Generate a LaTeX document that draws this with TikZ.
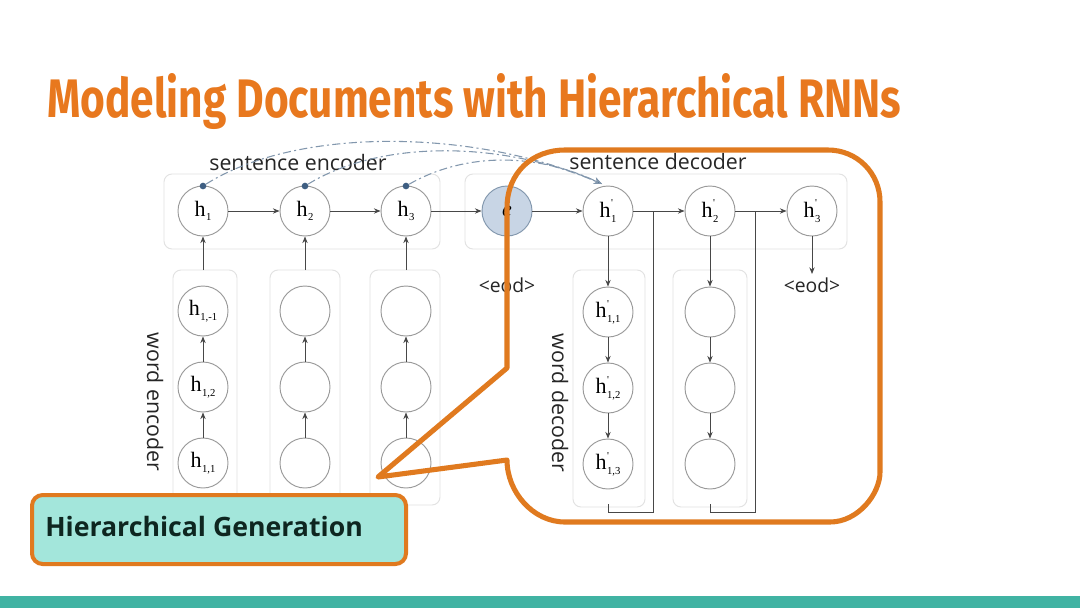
\documentclass[tikz,border=0pt]{standalone}
\usepackage{fontspec}
\usepackage{graphicx}
\setmainfont{Open Sans}
\newfontfamily\titlefont{Fira Sans}
\newfontfamily\serifnode{Liberation Serif}
\usetikzlibrary{arrows.meta}
\definecolor{titleO}{HTML}{E8781E}
\definecolor{calloutO}{HTML}{E07A1F}
\definecolor{tealbar}{HTML}{41B3A3}
\definecolor{tealfill}{HTML}{A3E6DB}
\definecolor{boxgrey}{HTML}{E2E2E2}
\definecolor{circgrey}{HTML}{9A9A9A}
\definecolor{arrowgrey}{HTML}{474747}
\definecolor{dashblue}{HTML}{8297AD}
\definecolor{dotblue}{HTML}{3E5E82}
\definecolor{efill}{HTML}{C8D5E5}
\definecolor{hgtext}{HTML}{0E2620}
\newcommand{\hsub}[1]{h\kern0.4pt\raisebox{-0.45ex}{\fontsize{8}{8}\selectfont #1}}
\newcommand{\hpsub}[1]{h\kern0.4pt\rlap{\raisebox{1.05ex}{\fontsize{8}{8}\selectfont '}}\raisebox{-0.45ex}{\fontsize{8}{8}\selectfont #1}}
\tikzset{
  rnn/.style={circle, draw=circgrey, line width=0.7pt, minimum size=37.5pt, inner sep=0pt,
    font=\serifnode\fontsize{16.5}{16.5}\selectfont},
  colbox/.style={draw=boxgrey, line width=0.7pt, rounded corners=6pt},
  arr/.style={draw=arrowgrey, line width=0.7pt, -{Stealth[length=5pt,width=4pt]}},
  plainline/.style={draw=arrowgrey, line width=0.7pt},
  dotnode/.style={circle, fill=dotblue, minimum size=5pt, inner sep=0pt},
  dashcurve/.style={draw=dashblue, line width=0.8pt, dash pattern=on 6pt off 2.5pt on 1.5pt off 2.5pt,
    -{Stealth[length=6pt,width=5pt,fill=dotblue]}},
  lbl/.style={font=\fontsize{16}{16}\selectfont, text=black!85, inner sep=0pt},
  eodlbl/.style={font=\fontsize{14.5}{14.5}\selectfont, text=black!85, inner sep=0pt},
  callout/.style={draw=calloutO, line width=3.8pt, line join=round},
}
\begin{document}
\begin{tikzpicture}[x=0.75pt, y=-0.75pt]
\useasboundingbox (0,0) rectangle (1080,608);
\fill[white] (0,0) rectangle (1080,608);

% title
\node[anchor=base west, inner sep=0pt, text=titleO] (title) at (47,117)
  {\resizebox{640pt}{33pt}{\titlefont\bfseries Modeling Documents with Hierarchical RNNs}};

% bottom bar
\fill[tealbar] (0,596) rectangle (1080,608);

% faint boxes
\draw[colbox] (164,174) rectangle (440,249);
\draw[colbox] (465,174) rectangle (847,249);
\draw[colbox] (173,270) rectangle (237,505);
\draw[colbox] (270,270) rectangle (340,505);
\draw[colbox] (370,270) rectangle (440,505);
\draw[colbox] (573,270) rectangle (645,507);
\draw[colbox] (673,270) rectangle (747,507);

% sentence level nodes
\node[rnn] (h1) at (203,211) {\hsub{1}};
\node[rnn] (h2) at (305,211) {\hsub{2}};
\node[rnn] (h3) at (406,211) {\hsub{3}};
\node[rnn, fill=efill, draw=dashblue] (e) at (507,211) {\itshape e};
\node[rnn] (hp1) at (608,211) {\hpsub{1}};
\node[rnn] (hp2) at (710,211) {\hpsub{2}};
\node[rnn] (hp3) at (812,211) {\hpsub{3}};

% word encoder nodes
\node[rnn] (a3) at (203,311) {\hsub{1,-1}};
\node[rnn] (a2) at (203,387) {\hsub{1,2}};
\node[rnn] (a1) at (203,463) {\hsub{1,1}};
\node[rnn] (b3) at (305,311) {};
\node[rnn] (b2) at (305,387) {};
\node[rnn] (b1) at (305,463) {};
\node[rnn] (c3) at (406,311) {};
\node[rnn] (c2) at (406,387) {};
\node[rnn] (c1) at (406,463) {};

% word decoder nodes
\node[rnn] (d1) at (608,312) {\hpsub{1,1}};
\node[rnn] (d2) at (608,388) {\hpsub{1,2}};
\node[rnn] (d3) at (608,464) {\hpsub{1,3}};
\node[rnn] (f1) at (710,312) {};
\node[rnn] (f2) at (710,388) {};
\node[rnn] (f3) at (710,464) {};

% sentence-level arrows
\draw[arr] (h1) -- (h2);
\draw[arr] (h2) -- (h3);
\draw[arr] (h3) -- (e);
\draw[arr] (e) -- (hp1);
\draw[arr] (hp1) -- (hp2);
\draw[arr] (hp2) -- (hp3);

% encoder columns
\coordinate (ta) at (203,270);
\coordinate (tb) at (305,270);
\coordinate (tc) at (406,270);
\draw[arr] (ta) -- (h1);
\draw[arr] (tb) -- (h2);
\draw[arr] (tc) -- (h3);
\draw[arr] (a1) -- (a2);
\draw[arr] (a2) -- (a3);
\draw[arr] (b1) -- (b2);
\draw[arr] (b2) -- (b3);
\draw[arr] (c1) -- (c2);
\draw[arr] (c2) -- (c3);

% decoder columns
\draw[arr] (hp1) -- (d1);
\draw[arr] (d1) -- (d2);
\draw[arr] (d2) -- (d3);
\draw[arr] (hp2) -- (f1);
\draw[arr] (f1) -- (f2);
\draw[arr] (f2) -- (f3);

% feedback lines
\coordinate (j1) at (653,211);
\coordinate (j1b) at (653,512);
\coordinate (k1b) at (608,512);
\coordinate (k1t) at (608,504);
\draw[plainline] (j1) -- (j1b) -- (k1b) -- (k1t);
\coordinate (j2) at (755,211);
\coordinate (j2b) at (755,512);
\coordinate (k2b) at (710,512);
\coordinate (k2t) at (710,504);
\draw[plainline] (j2) -- (j2b) -- (k2b) -- (k2t);

% eod
\node[eodlbl] (eod1) at (507,285) {<eod>};
\node[eodlbl] (eod2) at (812,285) {<eod>};
\coordinate (eodtop) at (812,274);
\draw[arr] (hp3) -- (eodtop);

% labels
\node[lbl] (senc) at (298,162) {sentence encoder};
\node[lbl] (sdec) at (658,161) {sentence decoder};
\node[lbl, rotate=-90] (wenc) at (155,402) {word encoder};
\node[lbl, rotate=-90] (wdec) at (560,403) {word decoder};

% dashed attention curves
\node[dotnode] (p1) at (203,186) {};
\node[dotnode] (p2) at (305,186) {};
\node[dotnode] (p3) at (406,186) {};
\coordinate (tgt) at (602,184);
\draw[dashcurve] (p1) .. controls (300,125) and (480,130) .. (tgt);
\draw[dashcurve] (p2) .. controls (380,140) and (500,140) .. (tgt);
\draw[dashcurve] (p3) .. controls (460,155) and (530,150) .. (tgt);

% callout
\coordinate (tip) at (378,477);
\draw[callout] (507,368) -- (tip) -- (507,460)
  .. controls (507,492) and (533,522) .. (565,522)
  -- (830,522) .. controls (858,522) and (880,494) .. (880,472)
  -- (880,202) .. controls (880,173) and (857,150) .. (828,150)
  -- (565,150) .. controls (533,150) and (507,172) .. (507,208)
  -- cycle;

% Hierarchical Generation box
\node[draw=calloutO, line width=3pt, fill=tealfill, rounded corners=8pt,
  minimum width=280.5pt, minimum height=51.75pt, anchor=north west, inner sep=0pt] (hgbox) at (30,493) {};
\node[anchor=base west, inner sep=0pt, text=hgtext, font=\fontsize{20}{20}\selectfont\bfseries] (hgtxt) at (45,536) {Hierarchical Generation};
\end{tikzpicture}
\end{document}
